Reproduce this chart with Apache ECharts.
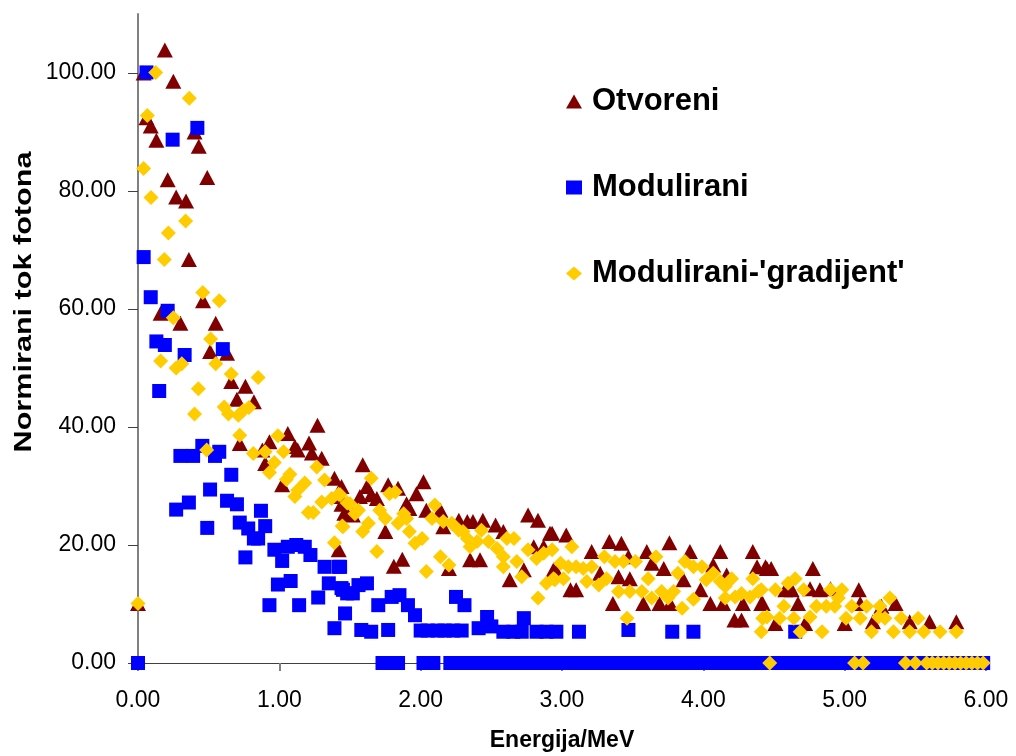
<!DOCTYPE html>
<html>
<head>
<meta charset="utf-8">
<title>Normirani tok fotona</title>
<script src="https://cdn.jsdelivr.net/npm/echarts@6/dist/echarts.min.js"></script>
<style>
html, body {margin: 0; padding: 0; background: #fff;}
#main {width: 1016px; height: 756px;}
</style>
</head>
<body>
<div id="main"></div>
<script>
/* Series names and tick labels. */
var seriesNames = ['Otvoreni', 'Modulirani', "Modulirani-'gradijent'"];
var yTicks      = [0, 20, 40, 60, 80, 100];

/* Otvoreni: [energija, tok]. */
var otvoreni = [
    [0.00,10.1],[0.04,100],[0.06,92.4],[0.09,91],[0.13,88.6],[0.16,59.3],[0.19,103.9],[0.21,81.9],
    [0.25,98.6],[0.27,79],[0.30,57.6],[0.34,78.3],[0.36,68.4],[0.40,90],[0.43,87.6],[0.46,61.4],
    [0.49,82.3],[0.51,52.8],[0.55,57.6],[0.63,52.5],[0.66,47.7],[0.70,44.7],[0.72,37.2],[0.76,46.9],
    [0.82,44.3],[0.88,36.1],[0.90,33.8],[0.93,37.5],[1.02,30.2],[1.06,38.9],[1.11,36.7],[1.13,36.1],
    [1.21,37.3],[1.23,35.6],[1.27,40.3],[1.30,34.7],[1.39,31.3],[1.42,19.2],[1.44,26.9],[1.46,25.4],
    [1.44,29.9],[1.43,28.2],[1.48,25.3],[1.52,25.1],[1.57,28.2],[1.59,33.6],[1.62,29.9],[1.65,28.5],
    [1.69,27.9],[1.75,22.3],[1.77,30.2],[1.81,16.4],[1.84,29.6],[1.87,17.6],[1.90,27],[1.92,26.2],
    [1.97,28.7],[2.02,30.7],[2.04,25.9],[2.14,25.9],[2.16,23.1],[2.20,16],[2.27,24.2],[2.33,24],
    [2.35,17.5],[2.37,24],[2.42,17.5],[2.44,24.2],[2.53,23.4],[2.585,22.3],[2.63,14.1],[2.73,15.8],
    [2.76,25.1],[2.80,19.7],[2.83,24.2],[2.87,19.7],[2.915,22],[2.94,15.8],[2.93,22],[3.03,21.7],
    [2.96,15.5],[3.06,12.4],[3.10,12.4],[3.21,18.9],[3.27,15.2],[3.335,20.6],[3.36,10.1],[3.40,14.6],
    [3.42,20.3],[3.47,18],[3.48,14.3],[3.575,10.1],[3.60,18.9],[3.635,16.9],[3.69,10.1],[3.72,16],
    [3.76,20.4],[3.765,10.1],[3.86,14.1],[3.905,18.9],[3.98,12.4],[4.05,10.1],[4.07,16.6],[4.12,18.9],
    [4.14,10.1],[4.165,14.9],[4.22,7.3],[4.27,7.3],[4.28,10.1],[4.35,18.9],[4.38,16.3],[4.41,10.1],
    [4.44,16.3],[4.45,16],[4.48,16],[4.42,10.1],[4.51,6.7],[4.58,12.4],[4.625,12.4],[4.67,10.1],
    [4.72,6.7],[4.755,12.6],[4.775,16],[4.825,12.4],[4.90,12.6],[5.00,6.7],[5.10,12.4],[5.11,10.1],
    [5.20,7],[5.26,9.6],[5.36,10.1],[5.46,7],[5.60,7],[5.79,7]
];

/* Modulirani: [energija, tok]. */
var modulirani = [
    [0.00,0],[0.04,68.8],[0.06,100.1],[0.09,62],[0.13,54.5],[0.15,46.1],[0.19,53.9],[0.21,59.7],
    [0.245,88.7],[0.27,26],[0.30,35.1],[0.33,52.2],[0.36,27.2],[0.39,35.1],[0.42,90.7],[0.455,36.8],
    [0.49,22.9],[0.51,29.4],[0.545,35.1],[0.575,35.8],[0.60,53.2],[0.63,27.5],[0.66,31.9],[0.70,26.9],
    [0.72,23.8],[0.76,17.9],[0.78,22.8],[0.82,21.1],[0.85,21.1],[0.87,25.8],[0.90,23.2],[0.93,9.8],
    [0.965,19.2],[0.99,13.3],[1.02,17.3],[1.06,19.7],[1.08,13.9],[1.12,20],[1.14,9.8],[1.18,19.7],
    [1.22,18.3],[1.275,11.1],[1.32,16.3],[1.35,13.5],[1.39,5.9],[1.42,16.3],[1.43,16.3],[1.44,12.7],
    [1.45,12.4],[1.465,8.4],[1.48,11.8],[1.52,11.8],[1.56,13.2],[1.58,5.6],[1.62,13.5],[1.65,5.3],
    [1.70,9.8],[1.77,5.6],[1.795,11.2],[1.85,11.5],[1.91,9.8],[1.96,8.1],[2.00,5.5],[2.05,5.5],
    [2.12,5.5],[2.17,5.5],[2.23,5.5],[2.25,11.2],[2.29,5.5],[2.31,9.8],[2.41,5.9],[2.47,7.8],
    [2.50,6.2],[2.585,5.3],[2.655,5.3],[2.715,5.3],[2.73,7.6],[2.82,5.3],[2.89,5.3],[2.96,5.3],
    [3.12,5.3],[3.47,5.6],[3.78,5.3],[3.93,5.3],[4.65,5.3]
];

/* Modulirani: energije s tokom 0. */
var moduliraniNula = [
    1.73,1.78,1.84,2.02,2.06,2.09,2.21,2.24,2.32,2.37,2.41,2.45,
    2.53,2.58,2.63,2.68,2.73,2.78,2.83,2.88,2.93,2.98,3.03,3.08,3.13,3.18,3.23,3.28,3.33,3.38,
    3.43,3.48,3.53,3.58,3.63,3.68,3.73,3.78,3.83,3.88,3.93,3.98,4.03,4.08,4.13,4.18,4.23,4.28,
    4.33,4.38,4.43,4.48,4.53,4.58,4.63,4.68,4.73,4.78,4.83,4.88,4.93,4.98,5.03,5.08,5.13,5.18,
    5.23,5.28,5.33,5.38,5.43,5.48,5.53,5.58,5.63,5.68,5.73,5.78,5.83,5.88,5.93,5.98
];

/* Modulirani-'gradijent': [energija, tok]. */
var gradijent = [
    [0.00,10.1],[0.04,83.8],[0.066,92.8],[0.092,78.9],[0.125,100.1],[0.16,51.2],[0.186,68.4],[0.215,72.9],
    [0.25,58.5],[0.27,50],[0.31,50.7],[0.337,74.9],[0.363,95.7],[0.40,42.2],[0.427,46.5],[0.458,62.8],
    [0.486,36.1],[0.514,54.9],[0.55,50.7],[0.575,61.4],[0.61,43.4],[0.64,42.2],[0.66,49],[0.71,42],
    [0.72,38.6],[0.745,42.8],[0.785,43.3],[0.816,35.5],[0.85,48.4],[0.90,35.8],[0.93,32.3],[0.965,34],
    [0.99,38.5],[1.03,35.8],[1.05,31.1],[1.075,32],[1.11,28.2],[1.13,29.3],[1.18,30.5],[1.205,25.5],
    [1.24,25.5],[1.265,33.2],[1.30,27.3],[1.32,31],[1.37,27.9],[1.39,20.4],[1.42,28.6],[1.445,23.2],
    [1.48,27.1],[1.43,28.5],[1.45,23.1],[1.50,27],[1.535,25.3],[1.56,25.9],[1.59,22.3],[1.63,23.7],
    [1.65,31.3],[1.69,18.9],[1.71,25.9],[1.75,24.5],[1.78,28.7],[1.82,29],[1.84,23.7],[1.88,25.3],
    [1.90,24.5],[1.92,22.3],[1.96,20.3],[2.01,21.1],[2.04,15.5],[2.08,24.5],[2.10,26.8],[2.14,18],
    [2.16,24],[2.20,16.6],[2.22,23.7],[2.27,22.5],[2.30,22.3],[2.33,21.1],[2.35,19.7],[2.40,20.6],
    [2.43,22.5],[2.48,20.6],[2.54,19.4],[2.585,18],[2.585,16.3],[2.61,21.1],[2.66,21.1],[2.68,17.2],
    [2.715,14.6],[2.76,19.2],[2.82,17.7],[2.83,11],[2.87,18.6],[2.89,13.5],[2.93,19.2],[2.95,14.1],
    [2.99,16.9],[3.045,16.3],[3.07,19.7],[3.10,16.3],[3.15,16],[3.21,16.3],[2.94,14.3],[3.01,14.3],
    [3.175,13.8],[3.26,13.2],[3.30,18],[3.315,14.3],[3.375,17.2],[3.40,12.1],[3.435,17.2],[3.46,7.6],
    [3.48,12.1],[3.52,17.2],[3.565,12.1],[3.61,14.3],[3.635,11],[3.665,18],[3.705,12.1],[3.75,11],
    [3.79,12.1],[3.82,15.2],[3.85,9.3],[3.87,17.2],[3.93,16.3],[3.93,10.8],[3.99,16.3],[4.02,14.1],
    [4.07,15.2],[4.12,13.8],[4.155,13],[4.155,11],[4.20,14.3],[4.225,11.2],[4.27,11.8],[4.33,11.2],
    [4.35,14.3],[4.39,12.1],[4.42,7.6],[4.41,5.3],[4.47,0],[4.41,12.4],[4.45,7.8],[4.51,12.4],
    [4.54,7.6],[4.57,9.6],[4.60,13.5],[4.64,7.6],[4.65,14.3],[4.685,5.3],[4.71,12.4],[4.755,7.8],
    [4.80,9.6],[4.84,5.3],[4.87,9.6],[4.90,12.4],[4.93,9.6],[4.955,11],[4.98,12.4],[5.01,7.6],
    [5.05,9.6],[5.07,0],[5.11,7.6],[5.13,0],[5.155,9.6],[5.19,5.3],[5.24,7.8],[5.25,9.6],
    [5.285,7.6],[5.32,11],[5.345,5.3],[5.40,7.6],[5.43,0],[5.46,5.3],[5.50,0],[5.52,7.6],
    [5.56,5.3],[5.58,0],[5.62,0],[5.66,0],[5.675,5.3],[5.70,0],[5.74,0],[5.78,0],
    [5.79,5.3],[5.82,0],[5.86,0],[5.90,0],[5.94,0],[5.98,0]
];

var fontFamily = "'Liberation Sans', Arial, sans-serif";
var labelStyle = {color: '#000', fontSize: 23, fontFamily: fontFamily};

var chart = echarts.init(document.getElementById('main'), null, {renderer: 'canvas'});

var option = {
    animation: false,
    backgroundColor: '#fff',
    grid: {left: 138, right: 30, top: 14, bottom: 93, outerBoundsMode: 'none'},
    legend: {
        orient: 'vertical',
        left: 561,
        top: 81,
        itemGap: 55,
        itemWidth: 16,
        itemHeight: 14,
        textStyle: {
            color: '#000',
            fontSize: 31,
            lineHeight: 30,
            fontWeight: 'bold',
            fontFamily: fontFamily,
            padding: [0, 0, 0, 5]
        },
        data: seriesNames
    },
    xAxis: {
        type: 'value',
        min: 0,
        max: 6,
        interval: 1,
        name: 'Energija/MeV',
        nameLocation: 'middle',
        nameGap: 66,
        nameTextStyle: {color: '#000', fontSize: 23, fontWeight: 'bold', fontFamily: fontFamily},
        axisLine: {show: true, lineStyle: {color: '#404040', width: 1}},
        axisTick: {show: true, length: 8, lineStyle: {color: '#808080', width: 2}},
        axisLabel: {
            margin: 26,
            formatter: function(v){ return v.toFixed(2); },
            color: labelStyle.color, fontSize: labelStyle.fontSize, fontFamily: labelStyle.fontFamily
        },
        splitLine: {show: false}
    },
    yAxis: {
        type: 'value',
        min: 0,
        max: 110,
        axisLine: {show: true, lineStyle: {color: '#808080', width: 2}},
        axisTick: {show: true, length: 10, customValues: yTicks, lineStyle: {color: '#404040', width: 1}},
        axisLabel: {
            margin: 22,
            customValues: yTicks,
            formatter: function(v){ return v.toFixed(2); },
            color: labelStyle.color, fontSize: labelStyle.fontSize, fontFamily: labelStyle.fontFamily
        },
        splitLine: {show: false}
    },
    graphic: [{
        type: 'text',
        x: 25,
        y: 302,
        rotation: Math.PI / 2,
        scaleX: 1.33,
        style: {
            text: 'Normirani tok fotona',
            fill: '#000',
            font: 'bold 23px ' + fontFamily,
            textAlign: 'center',
            textVerticalAlign: 'middle'
        }
    }],
    series: [
        {
            name: seriesNames[0],
            type: 'scatter',
            symbol: 'triangle',
            symbolSize: [16, 15],
            itemStyle: {color: '#800000', opacity: 1},
            data: otvoreni
        },
        {
            name: seriesNames[1],
            type: 'scatter',
            symbol: 'rect',
            symbolSize: 14,
            itemStyle: {color: '#0000ff', opacity: 1},
            data: modulirani.concat(moduliraniNula.map(function(e){ return [e, 0]; }))
        },
        {
            name: seriesNames[2],
            type: 'scatter',
            symbol: 'diamond',
            symbolSize: 15,
            itemStyle: {color: '#ffcc00', opacity: 1},
            data: gradijent
        }
    ]
};
chart.setOption(option);
</script>
</body>
</html>
